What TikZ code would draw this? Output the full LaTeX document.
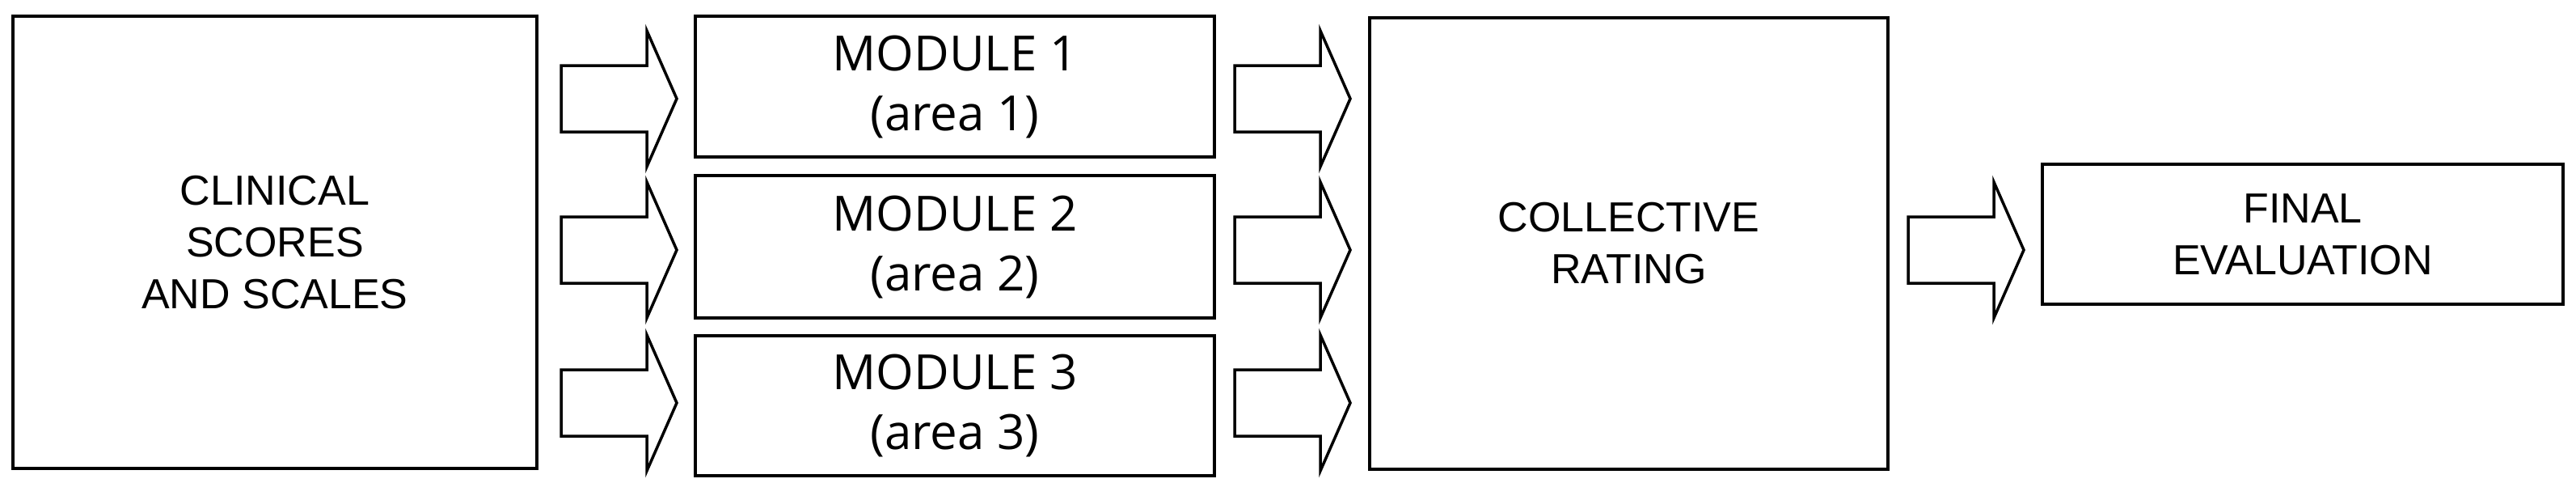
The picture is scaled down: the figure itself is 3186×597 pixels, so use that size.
\documentclass[tikz,border=0pt]{standalone}
\usepackage{fontspec}
\setmainfont{Liberation Sans}
\newfontfamily\modfont{Open Sans}
\begin{document}
\begin{tikzpicture}[x=1pt,y=-1pt,line width=4pt,
  box/.style={draw,line width=4pt,align=center,inner sep=0pt},
  bigtxt/.style={font=\fontsize{52}{64}\selectfont},
  modtxt/.style={font=\modfont\fontsize{60}{74}\selectfont},
  pics/fat/.style={code={
    \draw[line width=3.5pt,line join=miter] (0,-41) -- (106,-41) -- (106,-84) -- (143,0) -- (106,84) -- (106,41) -- (0,41) -- cycle;}}]
\useasboundingbox (0,0) rectangle (3186,597);
\node[box,bigtxt,minimum width=648,minimum height=559] (clin) at (340,299.5) {CLINICAL\\SCORES\\AND SCALES};
\node[box,modtxt,minimum width=642,minimum height=174] (m1) at (1181,107) {MODULE 1\\(area 1)};
\node[box,modtxt,minimum width=642,minimum height=176] (m2) at (1181,305) {MODULE 2\\(area 2)};
\node[box,modtxt,minimum width=642,minimum height=173] (m3) at (1181,501.5) {MODULE 3\\(area 3)};
\node[box,bigtxt,minimum width=641,minimum height=558] (coll) at (2014.5,301) {COLLECTIVE\\RATING};
\node[box,bigtxt,minimum width=644,minimum height=173] (fin) at (2848,289.5) {FINAL\\EVALUATION};
\pic at (694,122) {fat};
\pic at (694,309) {fat};
\pic at (694,498) {fat};
\pic at (1527,122) {fat};
\pic at (1527,309) {fat};
\pic at (1527,498) {fat};
\pic at (2360,309) {fat};
\end{tikzpicture}
\end{document}
